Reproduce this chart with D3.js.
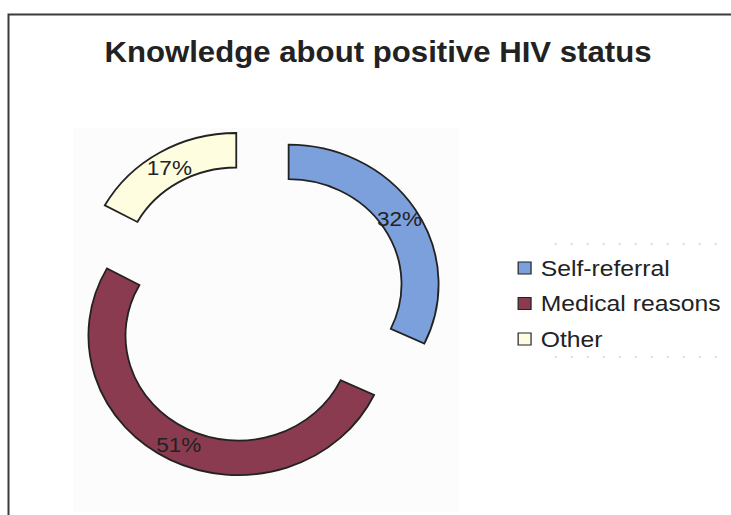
<!DOCTYPE html>
<html>
<head>
<meta charset="utf-8">
<script src="https://cdn.jsdelivr.net/npm/d3@7"></script>
<style>
  html, body { margin: 0; padding: 0; background: #fff; }
  svg { display: block; }
  text { font-family: "Liberation Sans", Arial, sans-serif; fill: #222; }
</style>
</head>
<body>
<svg id="chart" width="731" height="515"></svg>
<script>
// Data
const categories = ["Self-referral", "Medical reasons", "Other"];
const values = [32, 51, 17];
const colors = ["#7ca0db", "#8a3b4f", "#fffde0"];
const title = "Knowledge about positive HIV status";

const W = 731, H = 515;
const stretchX = 1.075;          // chart is drawn slightly wider than tall
const svg = d3.select("#chart");

// outer frame (open at right and bottom)
svg.append("path")
  .attr("d", `M8.5,${H} L8.5,14.5 L${W},14.5`)
  .attr("fill", "none")
  .attr("stroke", "#3a3a3a")
  .attr("stroke-width", 2);

// faint plot area
svg.append("rect")
  .attr("x", 73).attr("y", 128)
  .attr("width", 385).attr("height", 384)
  .attr("fill", "#fcfcfc");

const g = svg.append("g").attr("transform", `scale(${stretchX},1)`);

// title
g.append("text")
  .attr("x", 351.6).attr("y", 62)
  .attr("text-anchor", "middle")
  .style("font-size", "29px")
  .style("font-weight", "bold")
  .text(title);

// exploded doughnut
const cx = 238.1, cy = 303.5, explode = 36;
const pie = d3.pie().sort(null).startAngle(0).endAngle(2 * Math.PI);
const arc = d3.arc().innerRadius(105).outerRadius(139.5);
const slices = pie(values);

const donut = g.append("g").attr("transform", `translate(${cx},${cy})`);
const sg = donut.selectAll("g.slice")
  .data(slices)
  .join("g")
  .attr("class", "slice")
  .attr("transform", d => {
    const mid = (d.startAngle + d.endAngle) / 2;
    return `translate(${explode * Math.sin(mid)},${-explode * Math.cos(mid)})`;
  });

sg.append("path")
  .attr("d", arc)
  .attr("fill", (d, i) => colors[i])
  .attr("stroke", "#222")
  .attr("stroke-width", 1.8)
  .attr("vector-effect", "non-scaling-stroke");

sg.append("text")
  .attr("transform", d => `translate(${arc.centroid(d)})`)
  .attr("text-anchor", "middle")
  .attr("dy", "0.36em")
  .style("font-size", "21px")
  .text(d => d.value + "%");

// legend
const legend = g.append("g").attr("transform", "translate(482,0)");
const rowY = d3.scalePoint().domain(categories).range([268, 339]);

legend.selectAll("rect")
  .data(categories)
  .join("rect")
  .attr("x", 0)
  .attr("y", d => rowY(d) - 6)
  .attr("width", 12).attr("height", 12)
  .attr("fill", (d, i) => colors[i])
  .attr("stroke", "#222")
  .attr("stroke-width", 1.2)
  .attr("vector-effect", "non-scaling-stroke");

legend.selectAll("text")
  .data(categories)
  .join("text")
  .attr("x", 21)
  .attr("y", d => rowY(d) + 8)
  .style("font-size", "23px")
  .text(d => d);

// faint legend box edges
[244, 357].forEach(y => {
  legend.append("line")
    .attr("x1", 34).attr("x2", 195)
    .attr("y1", y).attr("y2", y)
    .attr("stroke", "#bbb")
    .attr("stroke-width", 1)
    .attr("stroke-dasharray", "2,14")
    .attr("vector-effect", "non-scaling-stroke");
});
</script>
</body>
</html>
